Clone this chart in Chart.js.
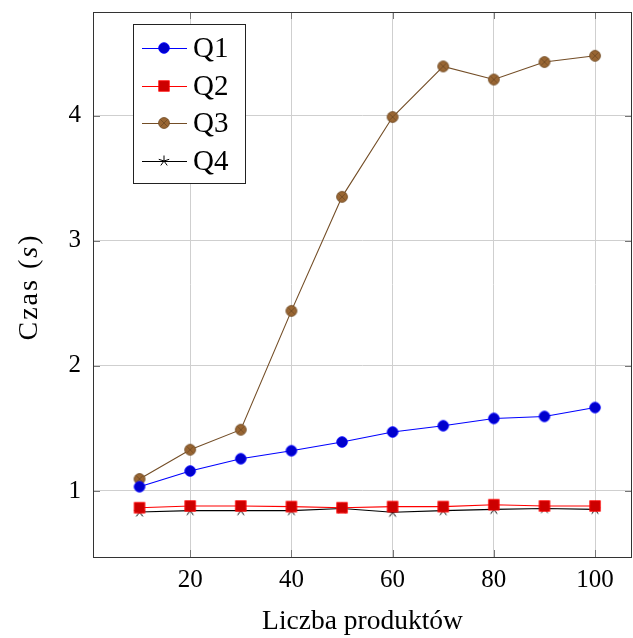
<!DOCTYPE html>
<html><head><meta charset="utf-8">
<script src="https://cdn.jsdelivr.net/npm/chart.js@4/dist/chart.umd.min.js"></script>
<style>html,body{margin:0;padding:0;background:#fff}#wrap{width:633px;height:638px;position:relative}</style>
</head><body><div id="wrap"><canvas id="c" width="633" height="638"></canvas></div>
<script>
const products = [10, 20, 30, 40, 50, 60, 70, 80, 90, 100];
const q1 = [1.034, 1.16, 1.258, 1.322, 1.392, 1.472, 1.522, 1.58, 1.596, 1.667];
const q2 = [0.866, 0.88, 0.88, 0.875, 0.866, 0.875, 0.875, 0.89, 0.88, 0.88];
const q3 = [1.096, 1.33, 1.49, 2.44, 3.352, 3.99, 4.395, 4.29, 4.43, 4.48];
const q4 = [0.832, 0.843, 0.843, 0.843, 0.86, 0.83, 0.843, 0.853, 0.86, 0.853];
const xTicks = [20, 40, 60, 80, 100];
const yTicks = [1, 2, 3, 4];
const seriesLabels = ['Q1', 'Q2', 'Q3', 'Q4'];
const xTitle = 'Liczba produktów';
const yTitleParts = ['Czas (', 's', ')'];

const FONT = '"Liberation Serif", "DejaVu Serif", serif';

function makeMarker(type) {
  const s = 16, c = document.createElement('canvas');
  c.width = s; c.height = s;
  const g = c.getContext('2d'); const m = s / 2;
  g.lineWidth = 0.9;
  if (type === 'circle') {
    g.beginPath(); g.arc(m, m, 5.3, 0, 2 * Math.PI);
    g.fillStyle = '#0000cc'; g.fill(); g.strokeStyle = '#0000ff'; g.stroke();
  } else if (type === 'square') {
    g.fillStyle = '#cc0000'; g.fillRect(m - 5.2, m - 5.2, 10.4, 10.4);
    g.strokeStyle = '#ff0000'; g.strokeRect(m - 5.2, m - 5.2, 10.4, 10.4);
  } else if (type === 'otimes') {
    const r = 5.4;
    g.beginPath(); g.arc(m, m, r, 0, 2 * Math.PI);
    g.fillStyle = '#996633'; g.fill(); g.strokeStyle = '#734d26'; g.stroke();
    const d = r * 0.7071;
    g.beginPath(); g.moveTo(m - d, m - d); g.lineTo(m + d, m + d);
    g.moveTo(m - d, m + d); g.lineTo(m + d, m - d); g.stroke();
  } else if (type === 'star') {
    const r = 5.5; g.strokeStyle = '#000'; g.lineWidth = 1;
    g.beginPath();
    for (let i = 0; i < 5; i++) {
      const a = -Math.PI / 2 + i * 2 * Math.PI / 5;
      g.moveTo(m, m); g.lineTo(m + r * Math.cos(a), m + r * Math.sin(a));
    }
    g.stroke();
  }
  return c;
}

const styles = [
  { color: '#0000ff', marker: makeMarker('circle') },
  { color: '#ff0000', marker: makeMarker('square') },
  { color: '#734d26', marker: makeMarker('otimes') },
  { color: '#000000', marker: makeMarker('star') }
];
const seriesValues = [q1, q2, q3, q4];

const datasets = seriesValues.map((vals, i) => ({
  label: seriesLabels[i],
  data: products.map((x, j) => ({ x: x, y: vals[j] })),
  borderColor: styles[i].color,
  backgroundColor: styles[i].color,
  borderWidth: 1.1,
  pointStyle: styles[i].marker,
  pointRadius: 6,
  tension: 0,
  clip: false
}));

const framePlugin = {
  id: 'frame',
  beforeDatasetsDraw(chart) {
    const { ctx, chartArea: a, scales } = chart;
    ctx.save();
    ctx.strokeStyle = '#777'; ctx.lineWidth = 1;
    const tl = 7;
    ctx.beginPath();
    xTicks.forEach(v => {
      const px = Math.round(scales.x.getPixelForValue(v)) + 0.5;
      ctx.moveTo(px, a.bottom); ctx.lineTo(px, a.bottom - tl);
      ctx.moveTo(px, a.top); ctx.lineTo(px, a.top + tl);
    });
    yTicks.forEach(v => {
      const py = Math.round(scales.y.getPixelForValue(v)) + 0.5;
      ctx.moveTo(a.left, py); ctx.lineTo(a.left + tl, py);
      ctx.moveTo(a.right, py); ctx.lineTo(a.right - tl, py);
    });
    ctx.stroke();
    ctx.strokeStyle = '#333'; ctx.lineWidth = 1;
    ctx.strokeRect(Math.round(a.left) + 0.5, Math.round(a.top) + 0.5,
      Math.round(a.right - a.left) - 1, Math.round(a.bottom - a.top));
    ctx.restore();
  },
  afterDraw(chart) {
    const { ctx } = chart;
    ctx.save();
    // y title
    const fs = 28;
    const fReg = fs + 'px ' + FONT, fIt = 'italic ' + fs + 'px ' + FONT;
    const fonts = [fReg, fIt, fReg];
    ctx.letterSpacing = '2px';
    let widths = yTitleParts.map((t, i) => { ctx.font = fonts[i]; return ctx.measureText(t).width; });
    const total = widths.reduce((a, b) => a + b, 0);
    ctx.translate(30, 287); ctx.rotate(-Math.PI / 2);
    ctx.textBaseline = 'middle'; ctx.fillStyle = '#000'; ctx.textAlign = 'left';
    let x = -total / 2;
    yTitleParts.forEach((t, i) => { ctx.font = fonts[i]; ctx.fillText(t, x, 0); x += widths[i]; });
    ctx.restore();

    // legend
    ctx.save();
    const bx = 133.5, by = 24.5, bw = 112, bh = 159;
    ctx.fillStyle = '#fff'; ctx.fillRect(bx, by, bw, bh);
    ctx.strokeStyle = '#222'; ctx.lineWidth = 1; ctx.strokeRect(bx, by, bw, bh);
    const rows = [48, 86, 123, 161];
    chart.data.datasets.forEach((ds, i) => {
      const y = rows[i];
      ctx.strokeStyle = ds.borderColor; ctx.lineWidth = 1.1;
      ctx.beginPath(); ctx.moveTo(142, y + 0.5); ctx.lineTo(187, y + 0.5); ctx.stroke();
      const mk = ds.pointStyle;
      ctx.drawImage(mk, 164 - mk.width / 2, y - mk.height / 2);
      ctx.fillStyle = '#000'; ctx.font = '29px ' + FONT;
      ctx.textBaseline = 'middle'; ctx.textAlign = 'left';
      ctx.fillText(ds.label, 193, y + 1);
    });
    ctx.restore();
  }
};

new Chart(document.getElementById('c'), {
  type: 'line',
  data: { datasets: datasets },
  options: {
    responsive: false,
    devicePixelRatio: 1,
    animation: false,
    events: [],
    layout: { autoPadding: false, padding: { top: 12, right: 1, left: 0, bottom: 0 } },
    plugins: { legend: { display: false }, tooltip: { enabled: false } },
    scales: {
      x: {
        type: 'linear', min: 0.8, max: 107.3,
        afterBuildTicks: s => { s.ticks = xTicks.map(v => ({ value: v })); },
        afterFit: s => { s.height = 81; s.paddingLeft = 0; s.paddingRight = 0; },
        grid: { color: '#cfcfcf', lineWidth: 1, drawTicks: false },
        border: { display: false },
        ticks: { color: '#000', font: { family: FONT, size: 25 }, padding: 8, maxRotation: 0 },
        title: { display: true, text: xTitle, color: '#000', font: { family: FONT, size: 27.5 }, padding: { top: 0, bottom: 0 } }
      },
      y: {
        type: 'linear', min: 0.472, max: 4.83,
        afterBuildTicks: s => { s.ticks = yTicks.map(v => ({ value: v })); },
        afterFit: s => { s.width = 93; s.paddingTop = 0; s.paddingBottom = 0; },
        grid: { color: '#cfcfcf', lineWidth: 1, drawTicks: false },
        border: { display: false },
        ticks: { color: '#000', font: { family: FONT, size: 25 }, padding: 12 },
        title: { display: false }
      }
    }
  },
  plugins: [framePlugin]
});
</script>
</body></html>
